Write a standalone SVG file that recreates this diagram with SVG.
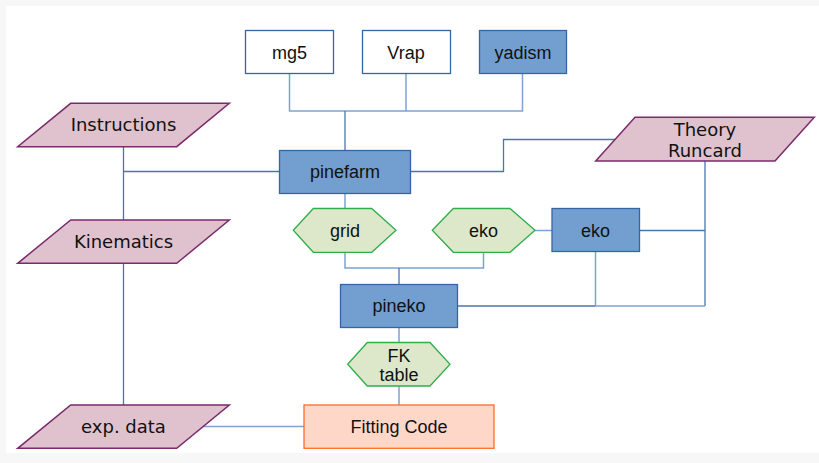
<svg xmlns="http://www.w3.org/2000/svg" width="819" height="463" viewBox="0 0 819 463">
<style>
.t{font-family:"Liberation Sans",Arial,sans-serif;font-size:18px;fill:#111;text-anchor:middle}
.d{font-family:"DejaVu Sans",sans-serif;font-size:18px;fill:#111;text-anchor:middle}
.blue{fill:#729fcf;stroke:#3465a4;stroke-width:1.3}
.white{fill:#fff;stroke:#3465a4;stroke-width:1.3}
.para{fill:#dfc2cd;stroke:#7b2a6c;stroke-width:1.5}
.hex{fill:#dde8cb;stroke:#2fae4a;stroke-width:1.3}
.fit{fill:#ffd7c9;stroke:#ff6d22;stroke-width:1.3}
.c{fill:none;stroke:#4a74b2;stroke-width:1.3}
.cl{fill:none;stroke:#7ea2d2;stroke-width:1.5}
</style>
<rect x="0" y="0" width="819" height="463" fill="#f7f7f7"/>
<rect x="6" y="6" width="813" height="447" fill="#fff"/>
<g id="connectors">
<polyline class="cl" points="289.5,73 289.5,111 522.5,111 522.5,73"/>
<line class="cl" x1="406" y1="73" x2="406" y2="111"/>
<line class="c" x1="345" y1="111" x2="345" y2="150"/>
<polyline class="c" points="410.5,171.5 503.5,171.5 503.5,139.5 616,139.5"/>
<polyline class="c" points="123.5,146.5 123.5,220"/>
<line class="c" x1="123.5" y1="171.5" x2="279.5" y2="171.5"/>
<line class="c" x1="123.5" y1="263.5" x2="123.5" y2="405"/>
<line class="cl" x1="345" y1="193" x2="345" y2="208.5"/>
<polyline class="cl" points="345,252 345,268 483.5,268 483.5,252"/>
<line class="c" x1="399" y1="268" x2="399" y2="284"/>
<line class="cl" x1="535" y1="230.5" x2="552" y2="230.5"/>
<line class="c" x1="639.5" y1="230.5" x2="705" y2="230.5"/>
<line class="c" x1="705" y1="161" x2="705" y2="306"/>
<line class="cl" x1="595.5" y1="251.5" x2="595.5" y2="306"/>
<line class="c" x1="457.5" y1="306" x2="595.5" y2="306"/>
<line class="cl" x1="595.5" y1="306" x2="705" y2="306"/>
<line class="cl" x1="399" y1="327.5" x2="399" y2="342.5"/>
<line class="cl" x1="399" y1="386" x2="399" y2="405"/>
<line class="cl" x1="203" y1="426.5" x2="304" y2="426.5"/>
</g>
<g id="mg5"><rect class="white" x="245.5" y="30.5" width="88" height="43"/><text class="t" x="289.5" y="58.5">mg5</text></g>
<g id="vrap"><rect class="white" x="362.5" y="30.5" width="88" height="43"/><text class="t" x="406" y="58.5">Vrap</text></g>
<g id="yadism"><rect class="blue" x="479.5" y="30.5" width="87" height="43"/><text class="t" x="523" y="58.5">yadism</text></g>
<g id="pinefarm"><rect class="blue" x="279.5" y="150.5" width="131" height="43"/><text class="t" x="345" y="178">pinefarm</text></g>
<g id="instructions"><polygon class="para" points="70.7,103.3 229.3,103.3 176.7,146.7 17.7,146.7"/><text class="d" x="123.5" y="131">Instructions</text></g>
<g id="kinematics"><polygon class="para" points="70.7,220 229.3,220 176.7,263.3 17.7,263.3"/><text class="d" x="123.5" y="248">Kinematics</text></g>
<g id="theory"><polygon class="para" points="635,117.3 814.3,117.3 775,161 595.7,161"/><text class="d" x="705" y="136">Theory</text><text class="d" x="705" y="157">Runcard</text></g>
<g id="grid"><polygon class="hex" points="293.3,230.3 313.3,208.5 371.7,208.5 396,230.3 371.7,252.3 313.3,252.3"/><text class="t" x="345" y="236.5">grid</text></g>
<g id="eko-grid"><polygon class="hex" points="432.3,230.3 453.3,208.5 510,208.5 535,230.3 510,252.3 453.3,252.3"/><text class="t" x="483.5" y="236.5">eko</text></g>
<g id="eko"><rect class="blue" x="552" y="208.5" width="87.5" height="43"/><text class="t" x="595.5" y="236.5">eko</text></g>
<g id="pineko"><rect class="blue" x="340.5" y="284.5" width="117" height="43"/><text class="t" x="399" y="312">pineko</text></g>
<g id="fktable"><polygon class="hex" points="347.7,364.2 367.3,342.5 430,342.5 450,364.2 430,386 367.3,386"/><text class="t" x="399" y="362">FK</text><text class="t" x="399" y="380.5">table</text></g>
<g id="expdata"><polygon class="para" points="70.7,405 229.3,405 176.7,448.3 17.7,448.3"/><text class="d" x="123.5" y="433">exp. data</text></g>
<g id="fitting"><rect class="fit" x="304" y="405" width="190" height="43.3"/><text class="t" x="399" y="433">Fitting Code</text></g>
</svg>
